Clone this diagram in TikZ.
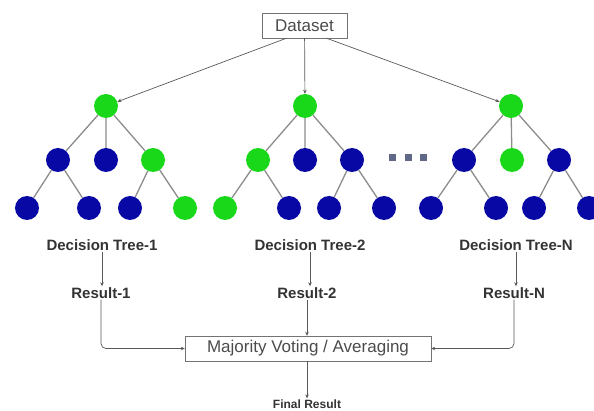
\documentclass[tikz,border=0pt]{standalone}
\usepackage{fontspec}
\setmainfont{Liberation Sans}
\usetikzlibrary{arrows.meta}
\definecolor{leafgreen}{RGB}{25,215,25}
\definecolor{leafblue}{RGB}{8,8,165}
\definecolor{edgegray}{RGB}{140,140,140}
\definecolor{dotgray}{RGB}{95,105,135}

\begin{document}
\begin{tikzpicture}[x=1pt, y=-1pt,
  gn/.style={circle, fill=leafgreen, minimum size=24pt, inner sep=0pt},
  bn/.style={circle, fill=leafblue, minimum size=24pt, inner sep=0pt},
  branch/.style={draw=edgegray, line width=1.3pt},
  flow/.style={draw=black!65, line width=0.7pt, -{Stealth[length=4pt,width=3.5pt]}},
  tag/.style={font=\fontsize{15}{18}\selectfont\bfseries, text=black!80, inner sep=1pt},
  box/.style={draw=black!55, fill=white, font=\fontsize{17}{20}\selectfont, text=black!70, inner sep=1pt}]
\useasboundingbox (0,0) rectangle (594,411);

% Dataset
\node[box, minimum width=85pt, minimum height=25pt] (ds) at (304.5,25.5) {Dataset};

% Tree 1
\node[gn] (t1) at (106,106) {};
\node[bn] (t1a) at (58,160) {};
\node[bn] (t1b) at (106,160) {};
\node[gn] (t1c) at (153,160) {};
\node[bn] (t1aa) at (27,208) {};
\node[bn] (t1ab) at (89,208) {};
\node[bn] (t1ca) at (130,208) {};
\node[gn] (t1cb) at (185,208) {};

% Tree 2
\node[gn] (t2) at (305,106) {};
\node[gn] (t2a) at (258,160) {};
\node[bn] (t2b) at (305,160) {};
\node[bn] (t2c) at (352,160) {};
\node[gn] (t2aa) at (225,208) {};
\node[bn] (t2ab) at (289,208) {};
\node[bn] (t2ca) at (329,208) {};
\node[bn] (t2cb) at (384,208) {};

% Tree N
\node[gn] (tn) at (511,106) {};
\node[bn] (tna) at (464,160) {};
\node[gn] (tnb) at (512,160) {};
\node[bn] (tnc) at (559,160) {};
\node[bn] (tnaa) at (431,208) {};
\node[bn] (tnab) at (496,208) {};
\node[bn] (tnca) at (534,208) {};
\node[bn] (tncb) at (589,208) {};

% branches
\foreach \tr in {1,2,n}
  \draw[branch] (t\tr) -- (t\tr a) (t\tr) -- (t\tr b) (t\tr) -- (t\tr c)
    (t\tr a) -- (t\tr aa) (t\tr a) -- (t\tr ab)
    (t\tr c) -- (t\tr ca) (t\tr c) -- (t\tr cb);

% the dots between trees
\foreach \i/\x in {1/392,2/408,3/423}
  \node[fill=dotgray, minimum size=7pt, inner sep=0pt] (dot\i) at (\x,158) {};

% Dataset to the trees
\draw[flow] ([xshift=-18pt]ds.south) -- (t1);
\draw[flow] (ds) -- (t2);
\draw[flow] ([xshift=22pt]ds.south) -- (tn);

% labels and results
\node[tag] (dt1) at (102,245) {Decision Tree-1};
\node[tag] (dt2) at (310,245) {Decision Tree-2};
\node[tag] (dtn) at (516,245) {Decision Tree-N};
\node[tag] (r1) at (101,293) {Result-1};
\node[tag] (r2) at (307,293) {Result-2};
\node[tag] (rn) at (514,293) {Result-N};
\node[box, minimum width=246pt, minimum height=25pt] (vote) at (308,348.5) {Majority Voting / Averaging};
\node[tag, font=\fontsize{12}{14}\selectfont\bfseries] (fin) at (307,404) {Final Result};

\draw[flow] (dt1.south) -- (dt1.south |- r1.north);
\draw[flow] (dt2.south) -- (dt2.south |- r2.north);
\draw[flow] (dtn.south) -- (dtn.south |- rn.north);

\draw[flow, rounded corners=5pt] (r1) |- (vote);
\draw[flow, rounded corners=5pt] (rn) |- (vote);
\draw[flow] (r2) -- (r2 |- vote.north);
\draw[flow] (vote.south -| fin) -- (fin);

\end{tikzpicture}
\end{document}
